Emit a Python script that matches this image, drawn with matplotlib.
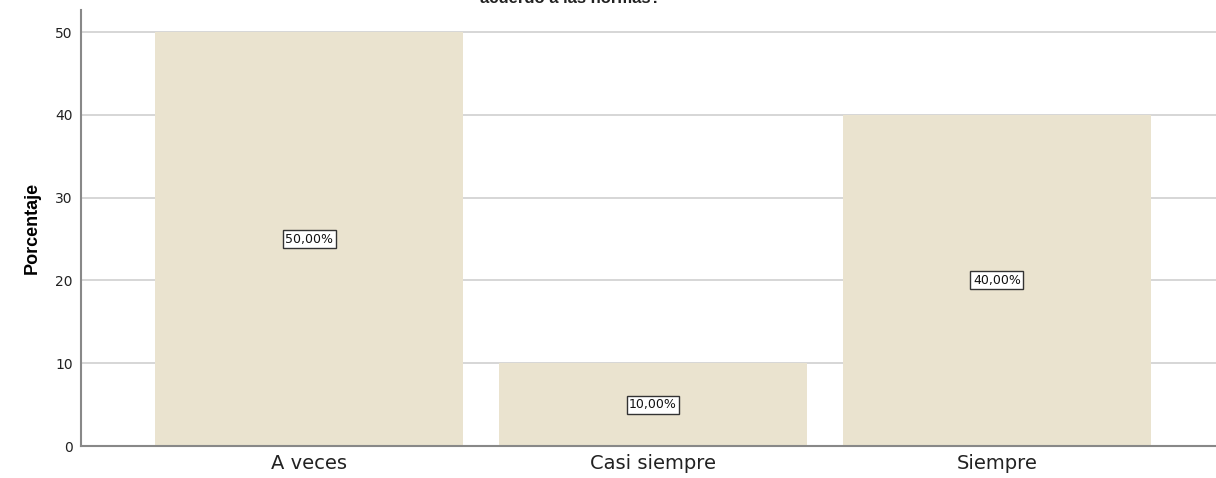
import matplotlib
matplotlib.use("Agg")
import matplotlib.pyplot as plt

# Data
categories = ["A veces", "Casi siempre", "Siempre"]
percentages = [50.0, 10.0, 40.0]
yticks = [0, 10, 20, 30, 40, 50]
title_tail = "acuerdo a las normas?"  # only the last title line shows, cut at top edge

fig = plt.figure(figsize=(12.16, 4.78), dpi=100)
ax = fig.add_axes([0.0666, 0.0669, 0.9334, 0.912])

x = range(len(categories))
ax.bar(x, percentages, width=0.895, color="#EAE3CF", zorder=2)

# labels in boxes at middle of bars
for xi, p in zip(x, percentages):
    ax.text(xi, p / 2, f"{p:.2f}%".replace(".", ","), ha="center", va="center",
            fontsize=9, color="#111111", zorder=3,
            bbox=dict(boxstyle="square,pad=0.2", facecolor="white", edgecolor="#333333", linewidth=1))

ax.set_xlim(-0.663, 2.637)
ax.set_ylim(0, 52.66)
ax.set_yticks(yticks)
ax.set_xticks(list(x))
ax.set_xticklabels(categories, fontsize=14, color="#222222")
ax.tick_params(axis="y", labelsize=10, length=0, pad=6, colors="#222222")
ax.tick_params(axis="x", length=0, pad=6)
ax.grid(axis="y", color="#D0D0D0", linewidth=1.2, zorder=1)
ax.set_axisbelow(True)

for s in ["top", "right"]:
    ax.spines[s].set_visible(False)
ax.spines["left"].set_color("#888888")
ax.spines["bottom"].set_color("#888888")
ax.spines["left"].set_linewidth(1.5)
ax.spines["bottom"].set_linewidth(1.5)

ax.set_ylabel("Porcentaje", fontsize=13, fontweight="bold", labelpad=10, family="Liberation Sans")

# title is cut off by the image edge
fig.text(0.469, 1 - 3 / 478, title_tail, ha="center", va="baseline", fontsize=12,
         fontweight="bold", color="#222222", family="Liberation Sans")

fig.savefig("out.png", dpi=100)
